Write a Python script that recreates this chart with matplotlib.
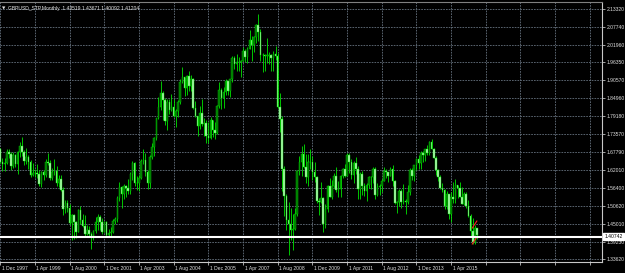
import matplotlib
matplotlib.use("Agg")
import matplotlib.pyplot as plt
import matplotlib.transforms as mtransforms
import numpy as np

# ---------------- data: GBPUSD monthly, Dec 1997 .. Apr 2016 ----------------
opens = [
    1.6860,
    1.6448, 1.6385, 1.6440, 1.6765, 1.6710, 1.6330, 1.6680, 1.6410, 1.6780, 1.6985, 1.6790, 1.6480,
    1.6620, 1.6450, 1.6040, 1.6115, 1.6110, 1.6090, 1.5770, 1.6135, 1.6050, 1.6470, 1.6440, 1.5935,
    1.6155, 1.6180, 1.5805, 1.5930, 1.5575, 1.4950, 1.5145, 1.4985, 1.4520, 1.4780, 1.4540, 1.4225,
    1.4930, 1.4620, 1.4430, 1.4180, 1.4310, 1.4170, 1.4090, 1.4250, 1.4540, 1.4700, 1.4540, 1.4230,
    1.4550, 1.4140, 1.4190, 1.4240, 1.4580, 1.4630, 1.5320, 1.5650, 1.5430, 1.5690, 1.5640, 1.5540,
    1.6090, 1.6440, 1.5780, 1.5800, 1.5960, 1.6480, 1.6520, 1.6140, 1.5790, 1.6630, 1.6940, 1.7220,
    1.7850, 1.8220, 1.8650, 1.8450, 1.7750, 1.8370, 1.8130, 1.8200, 1.7940, 1.8090, 1.8370, 1.9010,
    1.9160, 1.8820, 1.9190, 1.8890, 1.9100, 1.8180, 1.7920, 1.7600, 1.8030, 1.7660, 1.7700, 1.7290,
    1.7210, 1.7790, 1.7480, 1.7370, 1.8240, 1.8760, 1.8500, 1.8700, 1.9030, 1.8710, 1.9100, 1.9780,
    1.9590, 1.9650, 1.9650, 1.9680, 1.9990, 1.9790, 2.0070, 2.0330, 2.0180, 2.0430, 2.0810, 2.0600,
    1.9860, 1.9870, 1.9850, 1.9850, 1.9860, 1.9770, 1.9900, 1.9830, 1.8210, 1.7840, 1.6240, 1.5370,
    1.4620, 1.4490, 1.4310, 1.4330, 1.4790, 1.6170, 1.6460, 1.6700, 1.6290, 1.5990, 1.6470, 1.6460,
    1.6150, 1.5990, 1.5230, 1.5180, 1.5300, 1.4500, 1.4950, 1.5690, 1.5340, 1.5710, 1.6020, 1.5580,
    1.5610, 1.6020, 1.6250, 1.6030, 1.6690, 1.6460, 1.6060, 1.6430, 1.6250, 1.5590, 1.6080, 1.5700,
    1.5540, 1.5720, 1.5990, 1.5995, 1.6230, 1.5420, 1.5680, 1.5690, 1.5860, 1.6160, 1.6130, 1.6030,
    1.6250, 1.5850, 1.5170, 1.5190, 1.5540, 1.5200, 1.5210, 1.5200, 1.5490, 1.6200, 1.6030, 1.6370,
    1.6560, 1.6440, 1.6740, 1.6670, 1.6880, 1.6750, 1.7100, 1.6880, 1.6590, 1.6220, 1.5990, 1.5640,
    1.5580, 1.5060, 1.5440, 1.4820, 1.5350, 1.5280, 1.5720, 1.5620, 1.5360, 1.5130, 1.5440, 1.5060,
    1.4740, 1.4250, 1.3920, 1.43519,
]
highs = [
    1.6920,
    1.6575, 1.6600, 1.6890, 1.6880, 1.6780, 1.6770, 1.6720, 1.6820, 1.7100, 1.7250, 1.6830, 1.6910,
    1.6690, 1.6520, 1.6440, 1.6250, 1.6390, 1.6200, 1.6180, 1.6200, 1.6550, 1.6760, 1.6530, 1.6270,
    1.6570, 1.6340, 1.6050, 1.6050, 1.5650, 1.5260, 1.5240, 1.5110, 1.4800, 1.4790, 1.4590, 1.4960,
    1.5050, 1.4800, 1.4780, 1.4460, 1.4430, 1.4240, 1.4300, 1.4700, 1.4810, 1.4770, 1.4680, 1.4590,
    1.4590, 1.4330, 1.4390, 1.4640, 1.4700, 1.5380, 1.5820, 1.5690, 1.5750, 1.5720, 1.5910, 1.6140,
    1.6500, 1.6450, 1.6030, 1.6040, 1.6560, 1.6880, 1.6750, 1.6190, 1.6680, 1.7080, 1.7250, 1.7870,
    1.8530, 1.9050, 1.8720, 1.8510, 1.8460, 1.8470, 1.8640, 1.8460, 1.8140, 1.8420, 1.9110, 1.9470,
    1.9160, 1.9230, 1.9350, 1.9240, 1.9120, 1.8400, 1.7920, 1.8250, 1.8470, 1.7870, 1.7810, 1.7740,
    1.7880, 1.7800, 1.7720, 1.8270, 1.9000, 1.8810, 1.8850, 1.9110, 1.9050, 1.9100, 1.9850, 1.9850,
    1.9910, 1.9790, 1.9720, 2.0130, 2.0060, 2.0120, 2.0650, 2.0470, 2.0460, 2.0860, 2.1160, 2.0700,
    1.9930, 1.9890, 2.0400, 1.9950, 1.9910, 1.9980, 2.0140, 1.9940, 1.8650, 1.7940, 1.6340, 1.5440,
    1.5200, 1.4990, 1.4790, 1.4990, 1.6200, 1.6650, 1.6980, 1.7040, 1.6720, 1.6700, 1.6880, 1.6640,
    1.6460, 1.6020, 1.5300, 1.5810, 1.5340, 1.5130, 1.5720, 1.5960, 1.5900, 1.6100, 1.6300, 1.5870,
    1.6060, 1.6280, 1.6400, 1.6740, 1.6750, 1.6550, 1.6480, 1.6620, 1.6320, 1.6140, 1.6170, 1.5780,
    1.5800, 1.6000, 1.6020, 1.6300, 1.6290, 1.5780, 1.5760, 1.5910, 1.6310, 1.6240, 1.6150, 1.6310,
    1.6380, 1.5900, 1.5220, 1.5600, 1.5600, 1.5750, 1.5280, 1.5720, 1.6260, 1.6260, 1.6380, 1.6600,
    1.6670, 1.6820, 1.6820, 1.6880, 1.6990, 1.7120, 1.7190, 1.6900, 1.6640, 1.6230, 1.6040, 1.5790,
    1.5590, 1.5550, 1.5450, 1.5500, 1.5820, 1.5930, 1.5720, 1.5820, 1.5660, 1.5510, 1.5510, 1.5240,
    1.4800, 1.4670, 1.4460, 1.43671,
]
lows = [
    1.6420,
    1.6180, 1.6170, 1.6410, 1.6580, 1.6190, 1.6270, 1.6300, 1.6080, 1.6610, 1.6650, 1.6360, 1.6400,
    1.6240, 1.5990, 1.6000, 1.5970, 1.5960, 1.5690, 1.5660, 1.5880, 1.5990, 1.6380, 1.5890, 1.5890,
    1.6060, 1.5700, 1.5660, 1.5540, 1.4770, 1.4850, 1.4860, 1.4460, 1.3965, 1.4015, 1.4040, 1.4220,
    1.4500, 1.4390, 1.4080, 1.4120, 1.4060, 1.3690, 1.3970, 1.4210, 1.4280, 1.4310, 1.4170, 1.4220,
    1.4070, 1.4080, 1.4070, 1.4210, 1.4500, 1.4560, 1.5220, 1.5000, 1.5280, 1.5340, 1.5430, 1.5450,
    1.5900, 1.5700, 1.5560, 1.5540, 1.5920, 1.6400, 1.6000, 1.5610, 1.5640, 1.6540, 1.6640, 1.7170,
    1.7830, 1.8130, 1.7810, 1.7650, 1.7480, 1.7990, 1.8080, 1.7880, 1.7590, 1.7900, 1.8310, 1.8990,
    1.8570, 1.8590, 1.8730, 1.8710, 1.8160, 1.7880, 1.7280, 1.7500, 1.7600, 1.7280, 1.7070, 1.7050,
    1.7200, 1.7270, 1.7200, 1.7340, 1.8170, 1.8140, 1.8180, 1.8590, 1.8580, 1.8530, 1.9000, 1.9430,
    1.9360, 1.9350, 1.9160, 1.9670, 1.9660, 1.9620, 2.0060, 1.9680, 1.9950, 2.0260, 2.0300, 1.9690,
    1.9340, 1.9370, 1.9620, 1.9580, 1.9360, 1.9360, 1.9700, 1.8190, 1.7430, 1.5530, 1.4730, 1.4310,
    1.3500, 1.3980, 1.3660, 1.4290, 1.4750, 1.6040, 1.6000, 1.6260, 1.5780, 1.5710, 1.6250, 1.5900,
    1.5830, 1.5150, 1.4780, 1.5140, 1.4230, 1.4350, 1.4870, 1.5340, 1.5290, 1.5640, 1.5510, 1.5340,
    1.5360, 1.5960, 1.5990, 1.6020, 1.6110, 1.5920, 1.5790, 1.6070, 1.5290, 1.5270, 1.5410, 1.5370,
    1.5230, 1.5640, 1.5610, 1.5800, 1.5270, 1.5390, 1.5400, 1.5490, 1.5840, 1.5960, 1.5830, 1.6000,
    1.5690, 1.5120, 1.4830, 1.5060, 1.5010, 1.5110, 1.4810, 1.5110, 1.5420, 1.5890, 1.5850, 1.6220,
    1.6250, 1.6250, 1.6470, 1.6480, 1.6690, 1.6690, 1.6880, 1.6580, 1.6050, 1.5870, 1.5590, 1.5490,
    1.4950, 1.4950, 1.4630, 1.4560, 1.5170, 1.5170, 1.5320, 1.5330, 1.5110, 1.5080, 1.4990, 1.4710,
    1.4080, 1.3840, 1.3840, 1.40092,
]
closes = [
    1.6448,
    1.6385, 1.6440, 1.6765, 1.6710, 1.6330, 1.6680, 1.6410, 1.6780, 1.6985, 1.6790, 1.6480, 1.6620,
    1.6450, 1.6040, 1.6115, 1.6110, 1.6090, 1.5770, 1.6135, 1.6050, 1.6470, 1.6440, 1.5935, 1.6155,
    1.6180, 1.5805, 1.5930, 1.5575, 1.4950, 1.5145, 1.4985, 1.4520, 1.4780, 1.4540, 1.4225, 1.4930,
    1.4620, 1.4430, 1.4180, 1.4310, 1.4170, 1.4090, 1.4250, 1.4540, 1.4700, 1.4540, 1.4230, 1.4550,
    1.4140, 1.4190, 1.4240, 1.4580, 1.4630, 1.5320, 1.5650, 1.5430, 1.5690, 1.5640, 1.5540, 1.6090,
    1.6440, 1.5780, 1.5800, 1.5960, 1.6480, 1.6520, 1.6140, 1.5790, 1.6630, 1.6940, 1.7220, 1.7850,
    1.8220, 1.8650, 1.8450, 1.7750, 1.8370, 1.8130, 1.8200, 1.7940, 1.8090, 1.8370, 1.9010, 1.9160,
    1.8820, 1.9190, 1.8890, 1.9100, 1.8180, 1.7920, 1.7600, 1.8030, 1.7660, 1.7700, 1.7290, 1.7210,
    1.7790, 1.7480, 1.7370, 1.8240, 1.8760, 1.8500, 1.8700, 1.9030, 1.8710, 1.9100, 1.9780, 1.9590,
    1.9650, 1.9650, 1.9680, 1.9990, 1.9790, 2.0070, 2.0330, 2.0180, 2.0430, 2.0810, 2.0600, 1.9860,
    1.9870, 1.9850, 1.9850, 1.9860, 1.9770, 1.9900, 1.9830, 1.8210, 1.7840, 1.6240, 1.5370, 1.4620,
    1.4490, 1.4310, 1.4330, 1.4790, 1.6170, 1.6460, 1.6700, 1.6290, 1.5990, 1.6470, 1.6460, 1.6150,
    1.5990, 1.5230, 1.5180, 1.5300, 1.4500, 1.4950, 1.5690, 1.5340, 1.5710, 1.6020, 1.5580, 1.5610,
    1.6020, 1.6250, 1.6030, 1.6690, 1.6460, 1.6060, 1.6430, 1.6250, 1.5590, 1.6080, 1.5700, 1.5540,
    1.5720, 1.5990, 1.5995, 1.6230, 1.5420, 1.5680, 1.5690, 1.5860, 1.6160, 1.6130, 1.6030, 1.6250,
    1.5850, 1.5170, 1.5190, 1.5540, 1.5200, 1.5210, 1.5200, 1.5490, 1.6200, 1.6030, 1.6370, 1.6560,
    1.6440, 1.6740, 1.6670, 1.6880, 1.6750, 1.7100, 1.6880, 1.6590, 1.6220, 1.5990, 1.5640, 1.5580,
    1.5060, 1.5440, 1.4820, 1.5350, 1.5280, 1.5720, 1.5620, 1.5360, 1.5130, 1.5440, 1.5060, 1.4740,
    1.4250, 1.3920, 1.4370, 1.41204,
]

date_labels = ["1 Dec 1997", "1 Apr 1999", "1 Aug 2000", "1 Dec 2001", "1 Apr 2003",
               "1 Aug 2004", "1 Dec 2005", "1 Apr 2007", "1 Aug 2008", "1 Dec 2009",
               "1 Apr 2011", "1 Aug 2012", "1 Dec 2013", "1 Apr 2015"]
price_levels = [2.13320, 2.07740, 2.01960, 1.96350, 1.90570, 1.84960, 1.79180, 1.73570,
                1.67790, 1.62010, 1.56400, 1.50620, 1.45010, 1.39230, 1.33620]
current_price = 1.40742
title_text = "GBPUSD_STP,Monthly  1.43519 1.43671 1.40092 1.41204"
# two small red marks near the last bars (bar index, price)
mark_idx = [[217.8, 219.9], [217.8, 219.9]]
mark_price = [[1.4357, 1.4580], [1.3848, 1.4071]]

# ---------------- figure ----------------
W, H = 625, 273
fig = plt.figure(figsize=(W / 100, H / 100), dpi=100, facecolor="black")
ax = fig.add_axes([0, 11.5 / H, 602 / W, 260 / H], facecolor="black")

o = np.array(opens); h = np.array(highs); l = np.array(lows); c = np.array(closes)
idx = np.arange(len(o))
bull = c >= o

grid_col = "#66727f"
ax.set_axisbelow(True)
ax.grid(True, color=grid_col, linestyle=(0, (2, 1.3)), linewidth=0.6)

# wicks
ax.vlines(idx, l, h, color="#00e600", linewidth=0.6, zorder=2)
# bodies
bw = 0.75
body_lo = np.minimum(o, c)
body_h = np.maximum(np.abs(c - o), 0.0008)
ax.bar(idx[bull], body_h[bull], bottom=body_lo[bull], width=bw,
       color="#006f00", edgecolor="#00d000", linewidth=0.3, zorder=3)
ax.bar(idx[~bull], body_h[~bull], bottom=body_lo[~bull], width=bw,
       color="#b8f5b8", edgecolor="#00e600", linewidth=0.3, zorder=3)

for xs, ys in zip(mark_idx, mark_price):
    ax.plot(xs, ys, color="#ff2020", linewidth=0.8, zorder=4)

ax.axhline(current_price, color="white", linewidth=1.5, zorder=5)

ax.set_xlim(-0.14, 277.66)
ax.set_ylim(1.3292, 2.1571)

# x ticks / labels
xt = list(range(0, 273, 16))
ax.set_xticks(xt)
ax.set_xticklabels(date_labels + [""] * (len(xt) - len(date_labels)),
                   ha="left", fontsize=3.6, color="#e0e0e0", family="Liberation Sans")
ax.tick_params(axis="x", length=2, width=0.6, color="#c0c0c0", pad=1.5)

# y ticks / labels on the right
ax.yaxis.tick_right()
ax.set_yticks(price_levels)
ax.set_yticklabels([f"{v:.5f}" for v in price_levels], fontsize=3.6,
                   color="#e0e0e0", family="Liberation Sans")
ax.tick_params(axis="y", length=2, width=0.6, color="#c0c0c0", pad=1.5)

offset = mtransforms.ScaledTranslation(1.5 / 100, 0, fig.dpi_scale_trans)
for lab in ax.get_xticklabels():
    lab.set_transform(lab.get_transform() + offset)

ax.spines["left"].set_visible(False)
ax.spines["top"].set_color("#808080")
ax.spines["right"].set_color("#c8c8c8")
ax.spines["bottom"].set_color("#c8c8c8")
for s in ax.spines.values():
    s.set_linewidth(0.8)

# current price box
trans = mtransforms.blended_transform_factory(ax.transAxes, ax.transData)
ax.text(1.004, current_price, f"{current_price:.5f}", transform=trans, ha="left", va="center",
        fontsize=3.6, color="black", family="Liberation Sans", zorder=6, clip_on=False,
        bbox=dict(boxstyle="square,pad=0.2", facecolor="white", edgecolor="white"))

# title
fig.text(2 / W, 1 - 8.5 / H, "\u25bc", fontsize=3.2, color="#e0e0e0",
         family="DejaVu Sans", va="center", ha="left")
fig.text(8 / W, 1 - 8.5 / H, title_text, fontsize=3.6, color="#e8e8e8",
         family="Liberation Sans", va="center", ha="left")

fig.savefig("out.png", dpi=100, facecolor="black")
